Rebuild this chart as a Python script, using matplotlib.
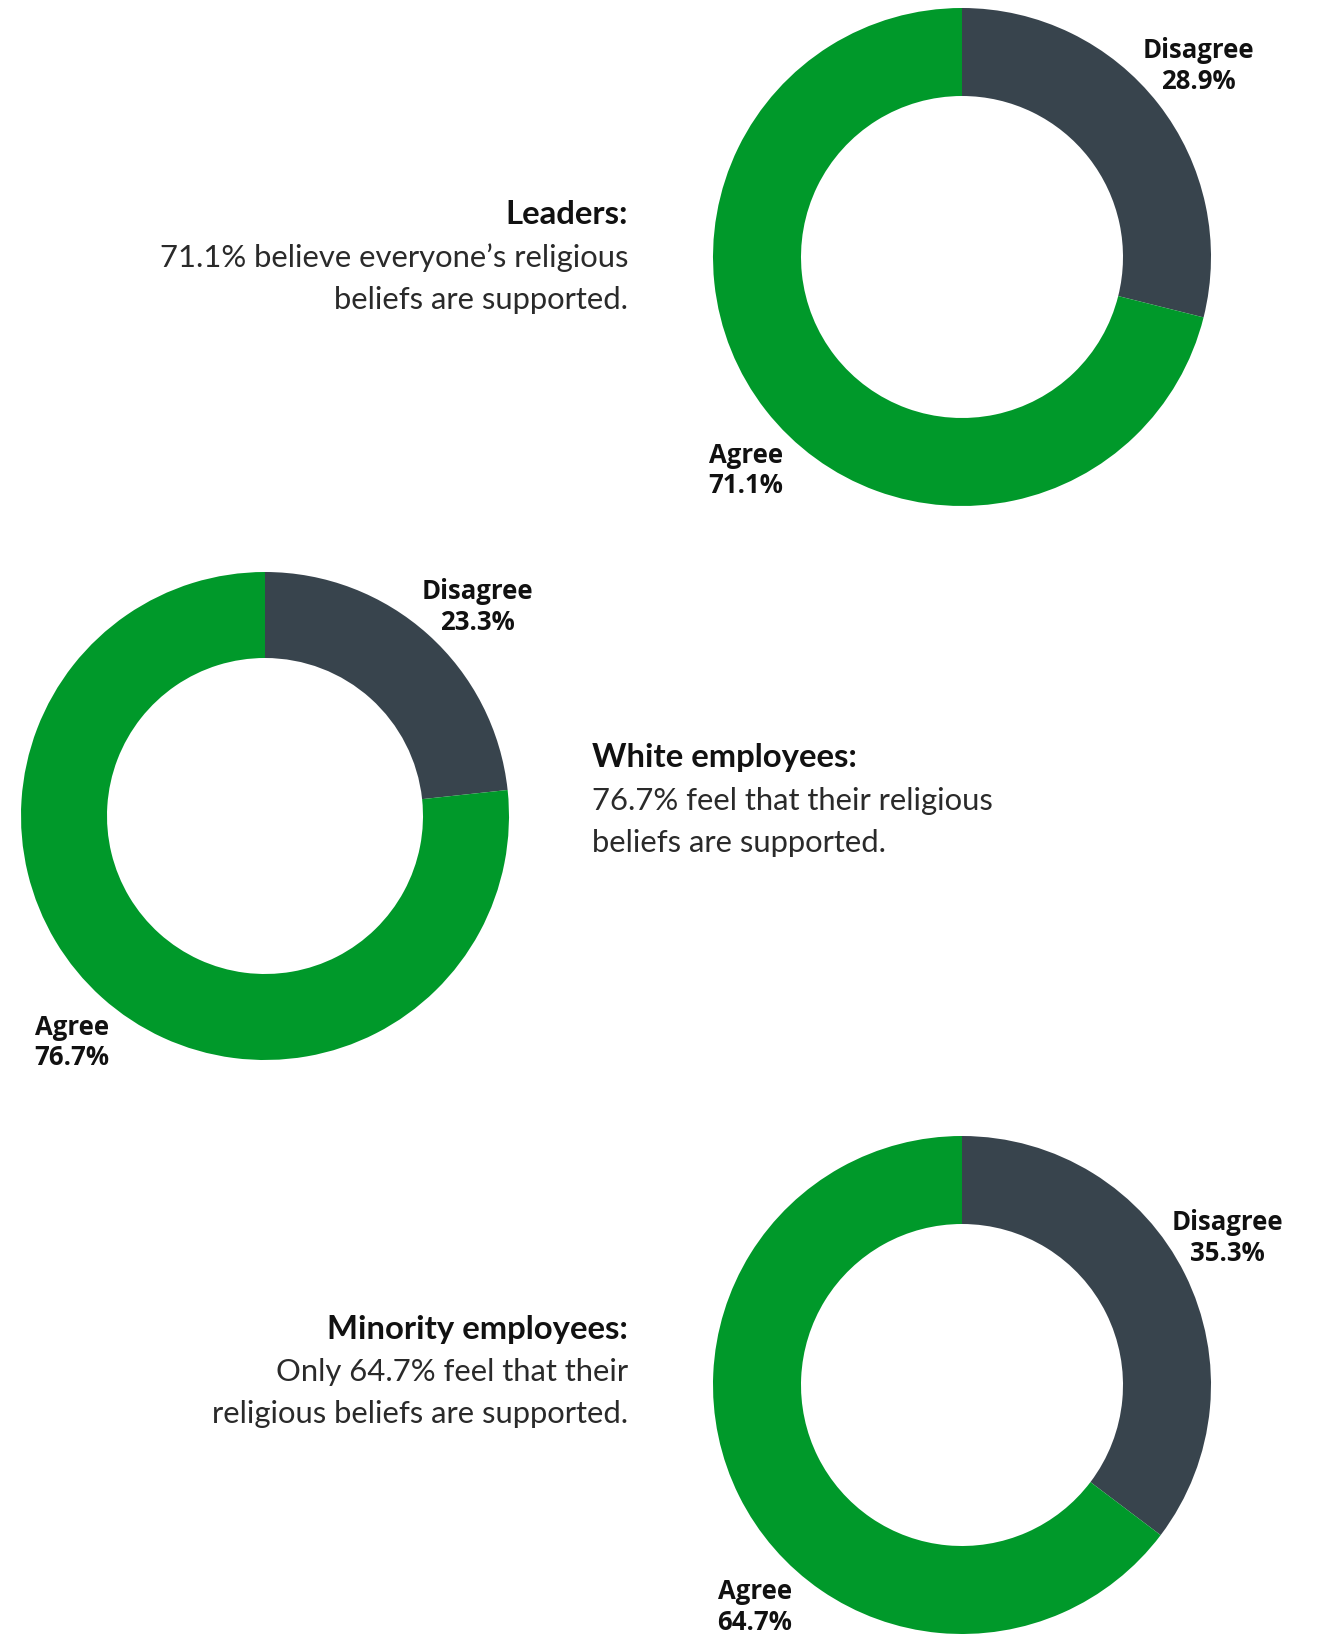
import numpy as np
import matplotlib.pyplot as plt

# survey shares, percent
groups = ["Leaders", "White employees", "Minority employees"]
disagree = [28.9, 23.3, 35.3]
agree = [71.1, 76.7, 64.7]
headlines = ["Leaders:", "White employees:", "Minority employees:"]
bodies = [
    "71.1% believe everyone\u2019s religious\nbeliefs are supported.",
    "76.7% feel that their religious\nbeliefs are supported.",
    "Only 64.7% feel that their\nreligious beliefs are supported.",
]

GREEN = "#00992a"
DARK = "#38444d"
W, H = 1321, 1634

fig = plt.figure(figsize=(W / 100, H / 100), dpi=100)
plt.rcParams["font.family"] = ["Lato", "DejaVu Sans"]

# donut centres / radii in pixels, caption anchor, and label angles
# (degrees clockwise from 12 o'clock) for the Disagree / Agree labels
layout = [
    dict(cx=962, cy=257, r=249, rin=161, tx=628, ty=214, ha="right", lab=(51, 225.3)),
    dict(cx=265, cy=816, r=244, rin=158, tx=592, ty=758, ha="left", lab=(45.4, 220.5)),
    dict(cx=962, cy=1385, r=249, rin=161, tx=628, ty=1329, ha="right", lab=(61, 223)),
]

half = 1.45
for i, lay in enumerate(layout):
    s = lay["r"] * half
    ax = fig.add_axes([(lay["cx"] - s) / W, (H - lay["cy"] - s) / H, 2 * s / W, 2 * s / H])
    vals = [disagree[i], agree[i]]
    ax.pie(vals, colors=[DARK, GREEN], startangle=90, counterclock=False,
           radius=1, wedgeprops=dict(width=1 - lay["rin"] / lay["r"], linewidth=0))
    # pie() sets its own limits, so fix them afterwards
    ax.set_xlim(-half, half)
    ax.set_ylim(-half, half)
    ax.set_aspect("equal")
    ax.axis("off")

    names = ["Disagree", "Agree"]
    for j in range(2):
        a = np.deg2rad(lay["lab"][j])
        x, y = 1.22 * np.sin(a), 1.22 * np.cos(a)
        ax.text(x, y, f"{names[j]}\n{vals[j]:.1f}%", ha="center", va="center",
                fontsize=18.5, fontweight="bold", color="#111111", linespacing=1.17,
                family=["Open Sans", "DejaVu Sans"], clip_on=False)

    fig.text(lay["tx"] / W, 1 - lay["ty"] / H, headlines[i], ha=lay["ha"], va="center",
             fontsize=23.7, fontweight="bold", color="#111111")
    fig.text(lay["tx"] / W, 1 - (lay["ty"] + 29) / H, bodies[i], ha=lay["ha"], va="top",
             fontsize=22.3, fontweight="normal", color="#2a2a2a", linespacing=1.6,
             multialignment=lay["ha"])

fig.savefig("out.png", dpi=100)
